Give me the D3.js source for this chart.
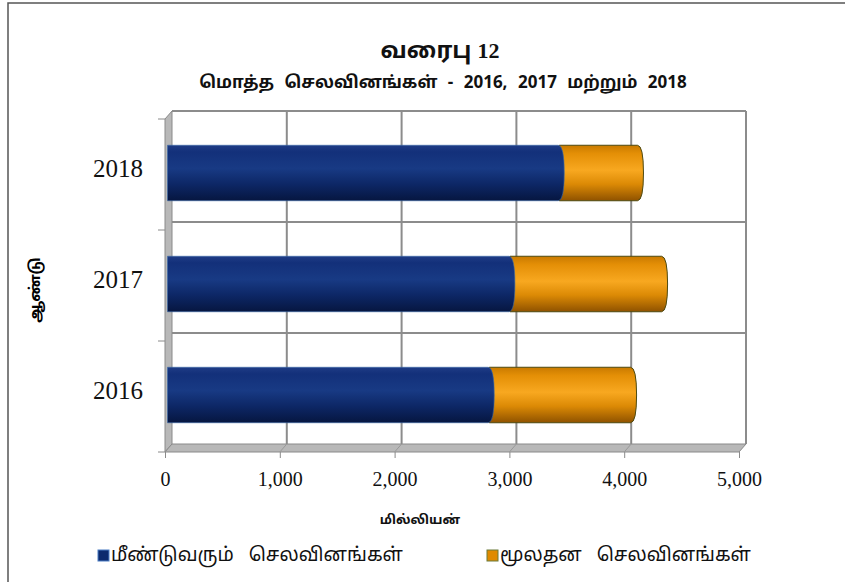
<!DOCTYPE html>
<html>
<head>
<meta charset="utf-8">
<script src="https://cdn.jsdelivr.net/npm/d3@7"></script>
<style>
  body { margin: 0; background: #fff; }
  svg text { font-family: "Latha", "Noto Sans Tamil", "Noto Serif Tamil", "Lohit Tamil", "Noto Sans", sans-serif; }
  .num { font-family: "Liberation Serif", "Times New Roman", serif; }
</style>
</head>
<body>
<div id="chart"></div>
<script>
// data
var years = ["2018", "2017", "2016"];
var recurrent = [3430, 3000, 2820];   // மீண்டுவரும் செலவினங்கள்
var capital = [690, 1330, 1240];      // மூலதன செலவினங்கள்
var xTicks = [0, 1000, 2000, 3000, 4000, 5000];
var seriesNames = ["மீண்டுவரும் செலவினங்கள்", "மூலதன செலவினங்கள்"];

var width = 845, height = 582;
var svg = d3.select("#chart").append("svg")
    .attr("width", width)
    .attr("height", height);

// outer frame
svg.append("rect")
    .attr("x", 8).attr("y", 3)
    .attr("width", 900).attr("height", 700)
    .attr("fill", "none")
    .attr("stroke", "#555")
    .attr("stroke-width", 1.5);

// front plane + depth offset for the 3d walls
var dx = 7, dy = -8;
var x = d3.scaleLinear().domain([0, 5000]).range([165, 739]);
var y = d3.scaleBand().domain(years).range([119, 452]);
var yTop = 119, yBot = 452;

var defs = svg.append("defs");

function cyl(id, stops) {
  var g = defs.append("linearGradient").attr("id", id)
      .attr("x1", 0).attr("y1", 0).attr("x2", 0).attr("y2", 1);
  stops.forEach(function(s) {
    g.append("stop").attr("offset", s[0]).attr("stop-color", s[1]);
  });
}
cyl("gBlue", [[0, "#1f3c86"], [0.12, "#13307a"], [0.42, "#183a84"], [0.7, "#0d2766"], [1, "#061640"]]);
cyl("gOrange", [[0, "#c97a00"], [0.15, "#e48f06"], [0.45, "#f8a820"], [0.7, "#dc8a05"], [1, "#8f5200"]]);

// left wall
svg.append("polygon")
    .attr("points", [[x(0), yTop], [x(0) + dx, yTop + dy], [x(0) + dx, yBot + dy], [x(0), yBot]].join(" "))
    .attr("fill", "#b8b8b8").attr("stroke", "#8a8a8a").attr("stroke-width", 1);

// floor
svg.append("polygon")
    .attr("points", [[x(0), yBot], [x(0) + dx, yBot + dy], [x(5000) + dx, yBot + dy], [x(5000), yBot]].join(" "))
    .attr("fill", "#b8b8b8").attr("stroke", "#8a8a8a").attr("stroke-width", 1);

// floor grid lines
svg.selectAll(".floorline")
  .data(xTicks.slice(1, 5))
  .enter().append("line")
    .attr("x1", function(d) { return x(d); })
    .attr("y1", yBot)
    .attr("x2", function(d) { return x(d) + dx; })
    .attr("y2", yBot + dy)
    .attr("stroke", "#999").attr("stroke-width", 1);

// back wall grid
var back = svg.append("g").attr("transform", "translate(" + dx + "," + dy + ")");
back.selectAll(".vgrid")
  .data(xTicks.slice(1))
  .enter().append("line")
    .attr("x1", function(d) { return x(d); })
    .attr("x2", function(d) { return x(d); })
    .attr("y1", yTop).attr("y2", yBot)
    .attr("stroke", "#8c8c8c").attr("stroke-width", 2);

var bounds = years.map(function(c) { return y(c); });
back.selectAll(".hgrid")
  .data(bounds)
  .enter().append("line")
    .attr("x1", x(0)).attr("x2", x(5000))
    .attr("y1", function(d) { return d; })
    .attr("y2", function(d) { return d; })
    .attr("stroke", "#8c8c8c").attr("stroke-width", 2);

// bars (stacked, drawn at mid depth)
var mid = { x: 2.5, y: -1.5 };
var barH = y.bandwidth() * 0.5;
var rows = years.map(function(c, i) {
  return { year: c, a: recurrent[i], b: capital[i] };
});

var barG = svg.append("g").attr("transform", "translate(" + mid.x + "," + mid.y + ")");

function barPath(x0, x1, yy, h) {
  var r = 3;
  return "M" + x0 + "," + yy +
    "L" + (x1 - r) + "," + yy +
    "Q" + (x1 + r) + "," + yy + " " + (x1 + r) + "," + (yy + h / 2) +
    "Q" + (x1 + r) + "," + (yy + h) + " " + (x1 - r) + "," + (yy + h) +
    "L" + x0 + "," + (yy + h) + "Z";
}

barG.selectAll(".cap")
  .data(rows)
  .enter().append("path")
    .attr("class", "cap")
    .attr("d", function(d) {
      return barPath(x(d.a) - 2, x(d.a + d.b), y(d.year) + (y.bandwidth() - barH) / 2, barH);
    })
    .attr("fill", "url(#gOrange)")
    .attr("stroke", "#4d4a12").attr("stroke-width", 1);

barG.selectAll(".rec")
  .data(rows)
  .enter().append("path")
    .attr("class", "rec")
    .attr("d", function(d) {
      return barPath(x(0), x(d.a), y(d.year) + (y.bandwidth() - barH) / 2, barH);
    })
    .attr("fill", "url(#gBlue)")
    .attr("stroke", "#3a6aa8").attr("stroke-width", 0.6);

// x axis
var xAxis = svg.append("g")
    .attr("transform", "translate(0," + yBot + ")")
    .call(d3.axisBottom(x).tickValues(xTicks).tickSize(6).tickPadding(14)
      .tickFormat(d3.format(",")));
xAxis.select(".domain").remove();
xAxis.selectAll("line").attr("stroke", "#8a8a8a");
xAxis.selectAll("text")
    .attr("class", "num")
    .attr("font-size", 20)
    .attr("fill", "#111");

// y axis
var yAxis = svg.append("g")
    .attr("transform", "translate(" + x(0) + ",0)")
    .call(d3.axisLeft(y).tickSize(0).tickPadding(22));
yAxis.select(".domain").remove();
yAxis.selectAll("text")
    .attr("class", "num")
    .attr("font-size", 25)
    .attr("fill", "#111")
    .attr("dy", "0.1em");

svg.selectAll(".ytick")
  .data(bounds.concat([yBot]))
  .enter().append("line")
    .attr("x1", x(0) - 7).attr("x2", x(0))
    .attr("y1", function(d) { return d; })
    .attr("y2", function(d) { return d; })
    .attr("stroke", "#8a8a8a");

// titles
var t1 = svg.append("text")
    .attr("x", 440).attr("y", 58)
    .attr("text-anchor", "middle")
    .attr("font-size", 23).attr("font-weight", "bold")
    .attr("fill", "#111");
t1.append("tspan").text("வரைபு ");
t1.append("tspan").attr("class", "num").attr("font-size", 22).text("12");

svg.append("text")
    .attr("x", 443).attr("y", 88)
    .attr("text-anchor", "middle")
    .attr("font-size", 17).attr("font-weight", "bold")
    .attr("word-spacing", 6)
    .attr("fill", "#111")
    .text("மொத்த செலவினங்கள் - 2016, 2017 மற்றும் 2018");

svg.append("text")
    .attr("x", 420).attr("y", 524)
    .attr("text-anchor", "middle")
    .attr("font-size", 13).attr("font-weight", "bold")
    .attr("fill", "#111")
    .text("மில்லியன்");

svg.append("text")
    .attr("transform", "translate(40,290) rotate(-90)")
    .attr("text-anchor", "middle")
    .attr("font-size", 15).attr("font-weight", "bold")
    .attr("fill", "#000")
    .text("ஆண்டு");

// legend
var legend = svg.selectAll(".legend")
  .data(seriesNames)
  .enter().append("g")
    .attr("transform", function(d, i) { return "translate(" + [98, 487][i] + ",550)"; });

legend.append("rect")
    .attr("width", 11).attr("height", 11)
    .attr("fill", function(d, i) { return ["#0c2a6e", "#e08a00"][i]; })
    .attr("stroke", function(d, i) { return ["#4a7cc4", "#6b7a3a"][i]; })
    .attr("stroke-width", 1);

legend.append("text")
    .attr("x", 13).attr("y", 11)
    .attr("font-size", 19)
    .attr("word-spacing", 10)
    .attr("fill", "#111")
    .text(function(d) { return d; });
</script>
</body>
</html>
